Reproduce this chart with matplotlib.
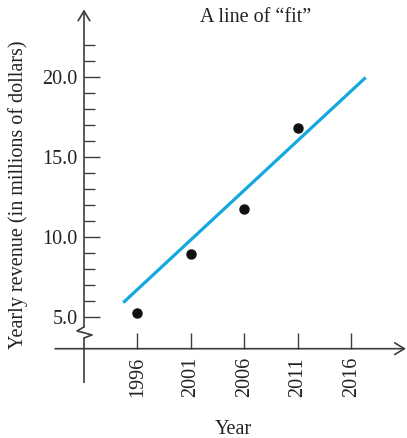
import matplotlib
matplotlib.use("Agg")
import matplotlib.pyplot as plt
from matplotlib.ticker import FixedLocator

# Data
years = [1996, 2001, 2006, 2011]
revenue = [5.2, 8.9, 11.7, 16.8]
fit_years = [1994.67, 2017.33]
fit_revenue = [5.88, 19.95]
x_ticks = [1996, 2001, 2006, 2011, 2016]
x_tick_labels = ["1996", "2001", "2006", "2011", "2016"]
y_major = [5, 10, 15, 20]
y_major_labels = ["5.0", "10.0", "15.0", "20.0"]
y_minor = [6, 7, 8, 9, 11, 12, 13, 14, 16, 17, 18, 19, 21, 22]

plt.rcParams['font.family'] = ['Liberation Serif', 'DejaVu Serif']
AX = '#3d3d3d'
LINE = '#14a8e1'
FS = 14.5

fig = plt.figure(figsize=(4.07, 4.38), dpi=100)
ax = fig.add_axes([0, 0, 1, 1])
ax.set_xlim(1983.15, 2021.19)
ax.set_ylim(-2.58, 24.79)
ax.patch.set_alpha(0)

for s in ax.spines.values():
    s.set_visible(False)
ax.spines['left'].set_position(('data', 1991))
ax.spines['bottom'].set_position(('data', 3))

# axis lines with open arrows
ax.annotate('', xy=(2021.1, 3), xytext=(1988.3, 3),
            arrowprops=dict(arrowstyle='->,head_length=0.7,head_width=0.42',
                            color=AX, lw=1.2, shrinkA=0, shrinkB=0))
ax.annotate('', xy=(1991, 24.2), xytext=(1991, 4.36),
            arrowprops=dict(arrowstyle='->,head_length=0.7,head_width=0.42',
                            color=AX, lw=1.2, shrinkA=0, shrinkB=0))
# lower part of y axis and break zigzag
ax.plot([1991, 1991], [0.86, 3.67], color=AX, lw=1.2, solid_capstyle='butt')
ax.plot([1991, 1990.35, 1991.75, 1991], [4.36, 4.11, 3.86, 3.67],
        color=AX, lw=1.2)

ax.yaxis.set_major_locator(FixedLocator(y_major))
ax.yaxis.set_minor_locator(FixedLocator(y_minor))
ax.set_yticklabels(y_major_labels)
ax.xaxis.set_major_locator(FixedLocator(x_ticks))
ax.xaxis.set_minor_locator(FixedLocator([]))
ax.set_xticklabels(x_tick_labels, rotation=90)

ax.tick_params(axis='y', which='major', direction='in', length=11.5, width=1.0,
               color=AX, labelsize=FS, labelcolor='#222222', pad=4.5,
               left=True, right=False)
ax.tick_params(axis='y', which='minor', direction='in', length=8, width=1.0,
               color=AX, left=True, right=False)
ax.tick_params(axis='x', which='major', direction='in', length=11.5, width=1.0,
               color=AX, labelsize=FS, labelcolor='#222222', pad=6,
               bottom=True, top=False)

ax.plot(fit_years, fit_revenue, color=LINE, lw=2.3, solid_capstyle='butt')
ax.plot(years, revenue, 'o', color='#111111', markersize=6.5)

fig.text(18 / 407, 1 - 195 / 438, 'Yearly revenue (in millions of dollars)',
         rotation=90, ha='center', va='center', fontsize=FS, color='#222222')
fig.text(200 / 407, 1 - 17 / 438, 'A line of \u201cfit\u201d',
         ha='left', va='center', fontsize=FS, color='#222222')
fig.text(233 / 407, 1 - 430 / 438, 'Year',
         ha='center', va='center', fontsize=FS, color='#222222')

fig.savefig('out.png', dpi=100)
